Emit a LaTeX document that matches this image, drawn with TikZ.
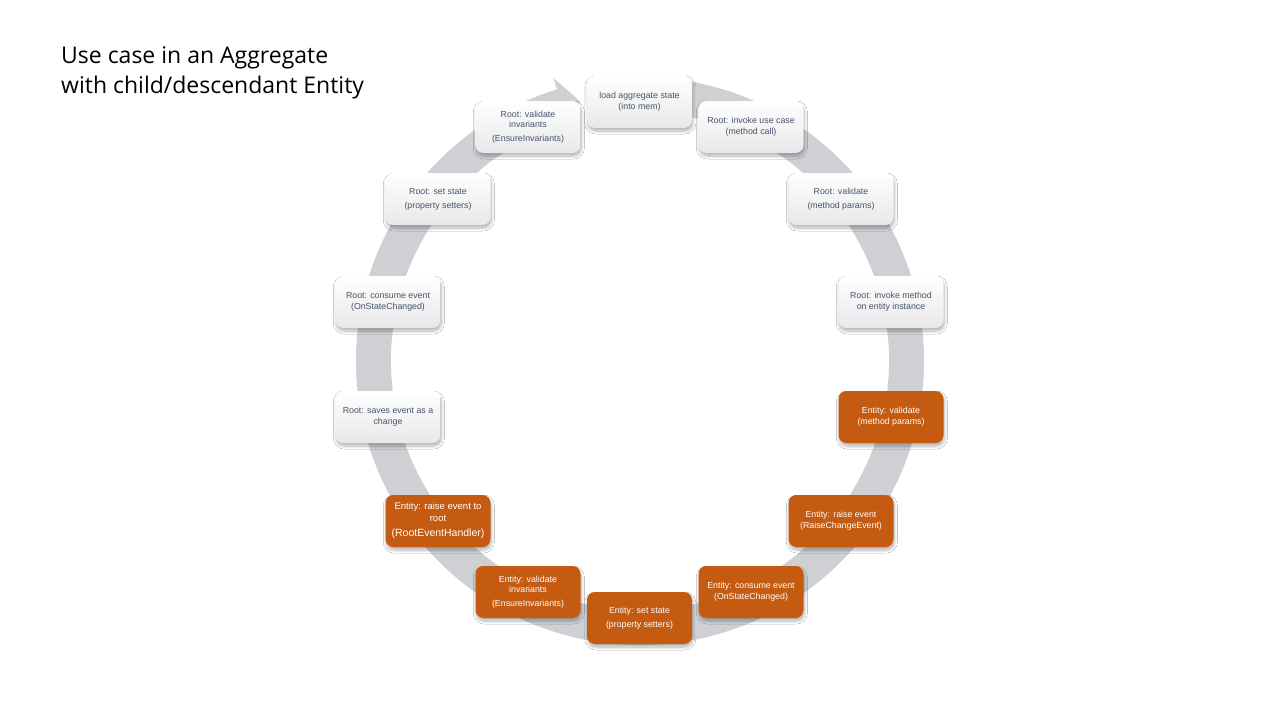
\documentclass[tikz,border=0pt]{standalone}
\usepackage{fontspec}
\setmainfont{Liberation Sans}
\newfontfamily\titlefont{Open Sans}
\usetikzlibrary{shadows.blur}
\definecolor{ringgray}{RGB}{207,208,212}
\definecolor{orangebox}{RGB}{197,90,17}
\definecolor{slatetext}{RGB}{68,84,106}
\definecolor{boxbottom}{RGB}{232,232,234}
\tikzset{
  basebox/.style={minimum width=105pt, minimum height=52pt, rounded corners=8pt, inner sep=2pt, align=center,
    blur shadow={shadow xshift=0.8pt, shadow yshift=-3pt, shadow blur steps=8, shadow blur radius=3pt, shadow opacity=30}},
  rootbox/.style={basebox, top color=white, bottom color=boxbottom, text=slatetext,
    font=\fontsize{8.8}{11}\selectfont},
  entbox/.style={basebox, fill=orangebox, text=white, font=\fontsize{8.8}{11}\selectfont},
}
\begin{document}
\begin{tikzpicture}[x=1pt, y=-1pt]
\useasboundingbox[fill=white] (0,0) rectangle (1280,720);
% title
\node[anchor=north west, inner sep=0pt, align=left, font=\titlefont\fontsize{23}{30}\selectfont] (title) at (61,46.5)
  {Use case in an Aggregate\\with child/descendant Entity};
% circular arrow
\begin{scope}[shift={(640,361)}, y=1pt]
  \fill[ringgray] (88:284) arc[start angle=88, end angle=-253, radius=284]
    -- (-253:296) -- (-257:266.5) -- (-253:237) -- (-253:249)
    arc[start angle=-253, end angle=88, radius=249] -- cycle;
\end{scope}
% nodes
\node[rootbox] (n1) at (639.5,102) {load aggregate state\\(into mem)};
\node[rootbox] (n2) at (751,127) {Root: invoke use case\\(method call)};
\node[rootbox] (n3) at (841,199) {Root: validate\\[3pt](method params)};
\node[rootbox] (n4) at (891,302) {Root: invoke method\\on entity instance};
\node[entbox] (n5) at (891,417) {Entity: validate\\(method params)};
\node[entbox] (n6) at (841,521) {Entity: raise event\\(RaiseChangeEvent)};
\node[entbox] (n7) at (751,592) {Entity: consume event\\(OnStateChanged)};
\node[entbox] (n8) at (639.5,618) {Entity: set state\\[3pt](property setters)};
\node[entbox, font=\fontsize{8.8}{10}\selectfont] (n9) at (528,592) {Entity: validate\\invariants\\[4pt](EnsureInvariants)};
\node[entbox, font=\fontsize{9.5}{12}\selectfont] (n10) at (438,521) {Entity: raise event to\\root\\[3pt]{\fontsize{10.5}{12}\selectfont(RootEventHandler)}};
\node[rootbox] (n11) at (388,417) {Root: saves event as a\\change};
\node[rootbox] (n12) at (388,302) {Root: consume event\\(OnStateChanged)};
\node[rootbox] (n13) at (438,199) {Root: set state\\[3pt](property setters)};
\node[rootbox, font=\fontsize{8.8}{10}\selectfont] (n14) at (528,127) {Root: validate\\invariants\\[4pt](EnsureInvariants)};
\end{tikzpicture}
\end{document}
